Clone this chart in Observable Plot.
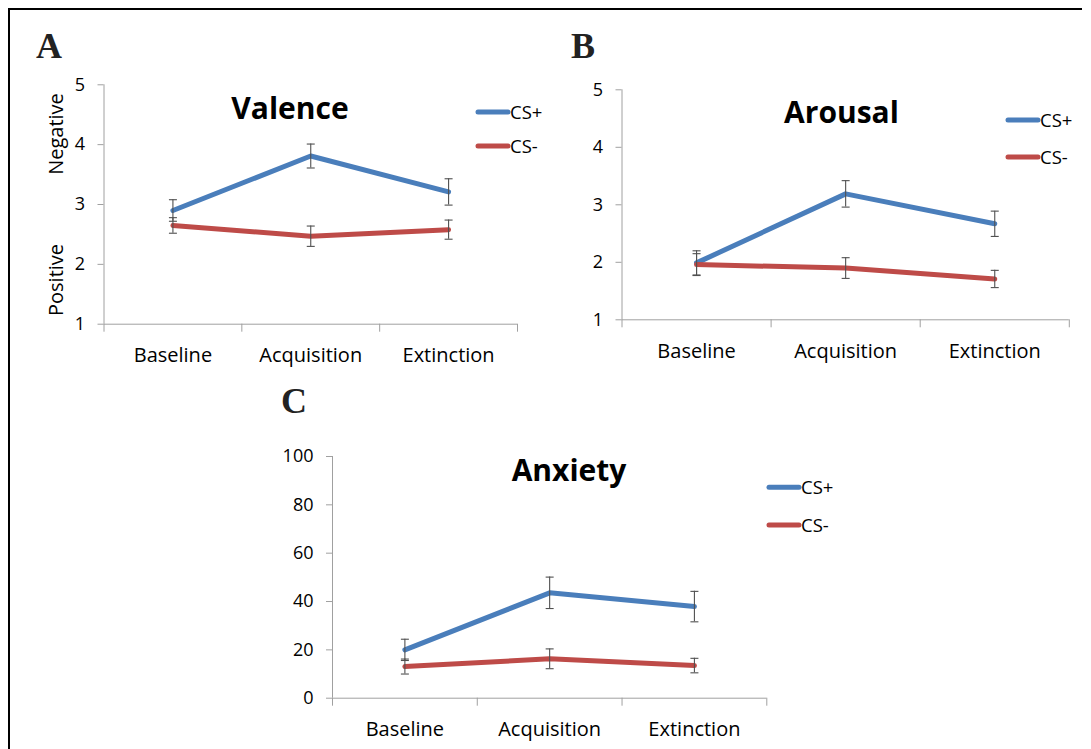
<!DOCTYPE html>
<html>
<head>
<meta charset="utf-8">
<script src="https://cdn.jsdelivr.net/npm/d3@7"></script>
<script src="https://cdn.jsdelivr.net/npm/@observablehq/plot@0.6"></script>
<style>
  html, body { margin: 0; padding: 0; background: #fff; }
  #root { position: relative; width: 1091px; height: 749px; overflow: hidden; background: #fff; font-family: 'Open Sans', sans-serif; }
  .panel { position: absolute; }
  #frame { position: absolute; left: 8px; top: 8px; width: 1074px; height: 800px; border-top: 2.5px solid #000; border-left: 2.5px solid #000; box-sizing: border-box; }
  #overlay { position: absolute; left: 0; top: 0; }
</style>
</head>
<body>
<div id="root">
  <div id="frame"></div>
</div>
<script>
// ---- data ----
const categories = ["Baseline", "Acquisition", "Extinction"];
const seriesNames = ["CS+", "CS-"];

const valenceCSplus = [2.9, 3.81, 3.21];
const valenceCSplusErr = [0.18, 0.2, 0.22];
const valenceCSminus = [2.65, 2.47, 2.58];
const valenceCSminusErr = [0.13, 0.17, 0.16];
const valenceTicks = [1, 2, 3, 4, 5];

const arousalCSplus = [1.99, 3.19, 2.67];
const arousalCSplusErr = [0.21, 0.23, 0.22];
const arousalCSminus = [1.96, 1.90, 1.71];
const arousalCSminusErr = [0.19, 0.18, 0.15];
const arousalTicks = [1, 2, 3, 4, 5];

const anxietyCSplus = [20.0, 43.6, 37.9];
const anxietyCSplusErr = [4.4, 6.5, 6.3];
const anxietyCSminus = [13.1, 16.3, 13.5];
const anxietyCSminusErr = [3.1, 4.1, 3.0];
const anxietyTicks = [0, 20, 40, 60, 80, 100];

// ---- styling ----
const blue = "#4a7ebb";
const red = "#be4b48";
const axisGray = "#a0a0a0";
const errGray = "#505050";
const font = "'Open Sans', sans-serif";

const capSymbol = {
  draw(context) { context.moveTo(-4, 0); context.lineTo(4, 0); }
};

function rows(vals, errs) {
  return vals.map((v, i) => ({i, v, lo: v - errs[i], hi: v + errs[i]}));
}

function panel(cfg) {
  const idx = categories.map((_, i) => i);
  const edges = [-0.5, ...idx.map(i => i + 0.5)];
  const plus = rows(cfg.plus, cfg.plusErr);
  const minus = rows(cfg.minus, cfg.minusErr);
  const errMarks = (data) => [
    Plot.ruleX(data, {x: "i", y1: "lo", y2: "hi", stroke: errGray, strokeWidth: 1.1}),
    Plot.dot(data, {x: "i", y: "lo", symbol: capSymbol, stroke: errGray, strokeWidth: 1.1, fill: "none"}),
    Plot.dot(data, {x: "i", y: "hi", symbol: capSymbol, stroke: errGray, strokeWidth: 1.1, fill: "none"})
  ];
  return Plot.plot({
    width: cfg.width, height: cfg.height,
    marginLeft: cfg.ml, marginRight: cfg.mr, marginTop: cfg.mt, marginBottom: cfg.mb,
    x: {type: "linear", domain: [-0.5, categories.length - 0.5]},
    y: {type: "linear", domain: cfg.yDomain},
    style: {fontFamily: font, fontSize: "18px", color: "#000", background: "transparent", overflow: "visible"},
    marks: [
      Plot.ruleX([-0.5], {stroke: axisGray}),
      Plot.ruleY([cfg.yDomain[0]], {stroke: axisGray}),
      Plot.axisY(cfg.ticks, {tickSize: 6, tickPadding: 13, stroke: axisGray, fill: "#000", fontSize: 18, tickFormat: d => String(d), label: null}),
      Plot.axisX(edges, {tickSize: 8, tickFormat: () => "", stroke: axisGray, label: null}),
      Plot.axisX(idx, {tickSize: 0, tickPadding: 24, tickFormat: i => categories[i], fill: "#000", fontSize: 20, label: null}),
      Plot.line(plus, {x: "i", y: "v", stroke: blue, strokeWidth: 5, strokeLinecap: "round", strokeLinejoin: "round"}),
      Plot.line(minus, {x: "i", y: "v", stroke: red, strokeWidth: 5, strokeLinecap: "round", strokeLinejoin: "round"}),
      ...errMarks(plus),
      ...errMarks(minus)
    ]
  });
}

const root = document.getElementById("root");
function place(node, left, top) {
  node.classList.add("panel");
  node.style.left = left + "px";
  node.style.top = top + "px";
  root.appendChild(node);
}

place(panel({width: 540, height: 380, ml: 103.5, mr: 23, mt: 84.3, mb: 56.3,
  yDomain: [1, 5], ticks: valenceTicks,
  plus: valenceCSplus, plusErr: valenceCSplusErr, minus: valenceCSminus, minusErr: valenceCSminusErr}), 0, 0);

place(panel({width: 551, height: 380, ml: 81.5, mr: 22.2, mt: 89.3, mb: 60.7,
  yDomain: [1, 5], ticks: arousalTicks,
  plus: arousalCSplus, plusErr: arousalCSplusErr, minus: arousalCSminus, minusErr: arousalCSminusErr}), 540, 0);

place(panel({width: 560, height: 369, ml: 72, mr: 53.7, mt: 76, mb: 51.3,
  yDomain: [0, 100], ticks: anxietyTicks,
  plus: anxietyCSplus, plusErr: anxietyCSplusErr, minus: anxietyCSminus, minusErr: anxietyCSminusErr}), 260, 380);

// ---- titles, panel letters, legends, side labels ----
const ns = "http://www.w3.org/2000/svg";
const svg = document.createElementNS(ns, "svg");
svg.setAttribute("id", "overlay");
svg.setAttribute("width", 1091);
svg.setAttribute("height", 749);
root.appendChild(svg);
function txt(s, x, y, attrs) {
  const t = document.createElementNS(ns, "text");
  t.textContent = s;
  t.setAttribute("x", x); t.setAttribute("y", y);
  for (const k in attrs) t.setAttribute(k, attrs[k]);
  svg.appendChild(t);
  return t;
}
function seg(x1, x2, y, color) {
  const l = document.createElementNS(ns, "line");
  l.setAttribute("x1", x1); l.setAttribute("x2", x2);
  l.setAttribute("y1", y); l.setAttribute("y2", y);
  l.setAttribute("stroke", color); l.setAttribute("stroke-width", 5);
  l.setAttribute("stroke-linecap", "round");
  svg.appendChild(l);
}
const letter = {"font-family": "'Liberation Serif', 'Times New Roman', serif", "font-weight": "bold", "font-size": 36, fill: "#222"};
txt("A", 36, 58, letter);
txt("B", 571, 58, letter);
txt("C", 281, 413, letter);

const title = {"font-family": font, "font-weight": "bold", "font-size": 30, "text-anchor": "middle", fill: "#000"};
txt("Valence", 290, 118.5, title);
txt("Arousal", 841.5, 122.5, title);
txt("Anxiety", 569, 480.5, title);

const leg = {"font-family": font, "font-size": 18.5, fill: "#000"};
function legend(x1, x2, yPlus, yMinus) {
  seg(x1, x2, yPlus, blue); txt(seriesNames[0], x2 + 2, yPlus + 6.5, leg);
  seg(x1, x2, yMinus, red); txt(seriesNames[1], x2 + 2, yMinus + 6.5, leg);
}
legend(478, 508, 112, 146);
legend(1008, 1038, 120, 157);
legend(769, 799, 487.3, 525);

const side = {"font-family": font, "font-size": 20, fill: "#000", "text-anchor": "middle"};
txt("Negative", 0, 0, {...side, transform: "translate(62.5,134) rotate(-90)"});
txt("Positive", 0, 0, {...side, transform: "translate(62.5,280) rotate(-90)"});
</script>
</body>
</html>
